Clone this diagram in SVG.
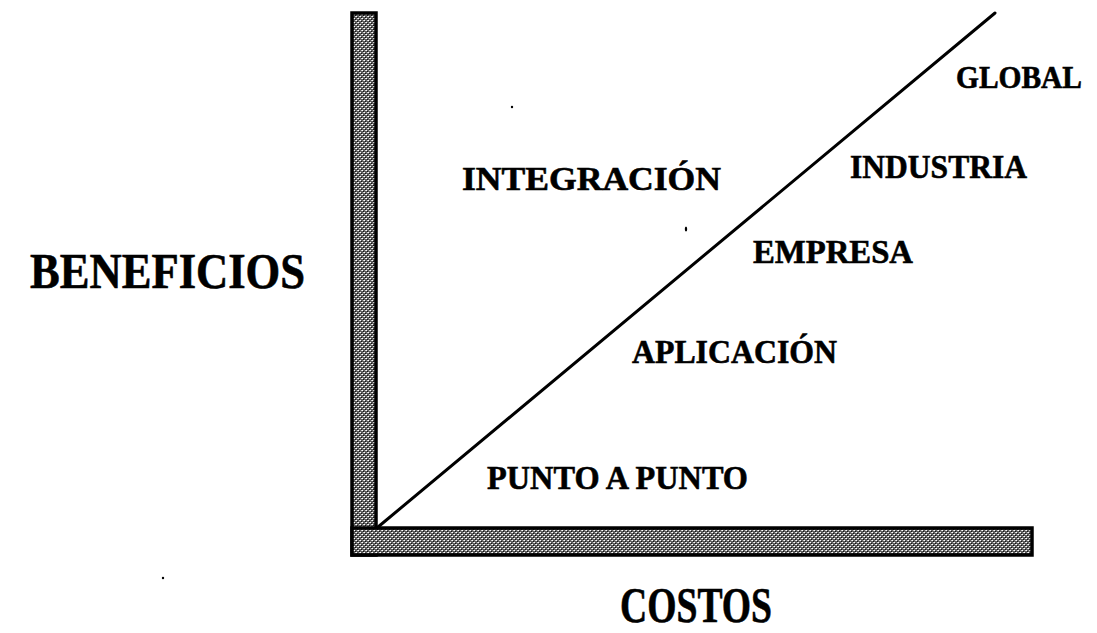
<svg xmlns="http://www.w3.org/2000/svg" width="1097" height="633" viewBox="0 0 1097 633">
<style>
.lbl{font-family:"Liberation Serif","Times New Roman",serif;font-weight:bold;fill:#000;stroke:#000;stroke-width:0.6}
.sm{font-size:34px}
.big{font-size:50px}
.bar{fill:url(#dither);stroke:#000;stroke-width:3.5}
</style>
<defs>
<pattern id="dither" width="4" height="4" patternUnits="userSpaceOnUse">
<rect width="4" height="4" fill="#5e5e5e"/>
<rect x="0" y="0" width="1" height="1" fill="#fff"/>
<rect x="2" y="2" width="1" height="1" fill="#fff"/>
<rect x="1" y="2" width="1" height="1" fill="#ccc"/>
<rect x="3" y="0" width="1" height="1" fill="#ccc"/>
<rect x="1" y="1" width="1" height="1" fill="#111"/>
<rect x="3" y="3" width="1" height="1" fill="#111"/>
</pattern>
</defs>
<rect width="1097" height="633" fill="#fff"/>
<g id="axes">
<rect id="y-axis" class="bar" x="352" y="13" width="24" height="542"/>
<rect id="x-axis" class="bar" x="352" y="528" width="680" height="27"/>
</g>
<g id="connectors">
<line x1="378" y1="527" x2="995" y2="13" stroke="#000" stroke-width="3" stroke-linecap="round"/>
</g>
<g id="axis-labels">
<text id="beneficios" class="lbl big" x="30" y="288" textLength="275" lengthAdjust="spacingAndGlyphs">BENEFICIOS</text>
<text id="costos" class="lbl big" x="620" y="622" textLength="152" lengthAdjust="spacingAndGlyphs">COSTOS</text>
</g>
<g id="node-global"><text class="lbl" font-size="31" x="956" y="88" textLength="126" lengthAdjust="spacingAndGlyphs">GLOBAL</text></g>
<g id="node-industria"><text class="lbl sm" x="850" y="178" textLength="177" lengthAdjust="spacingAndGlyphs">INDUSTRIA</text></g>
<g id="node-integracion"><text class="lbl sm" x="462" y="190" textLength="259" lengthAdjust="spacingAndGlyphs">INTEGRACIÓN</text></g>
<g id="node-empresa"><text class="lbl sm" x="753" y="263" textLength="160" lengthAdjust="spacingAndGlyphs">EMPRESA</text></g>
<g id="node-aplicacion"><text class="lbl sm" x="632" y="363" textLength="205" lengthAdjust="spacingAndGlyphs">APLICACIÓN</text></g>
<g id="node-punto"><text class="lbl sm" x="487" y="489" textLength="261" lengthAdjust="spacingAndGlyphs">PUNTO A PUNTO</text></g>
<g id="specks">
<circle cx="512" cy="107" r="1.2" fill="#000"/>
<ellipse cx="686" cy="229" rx="1.2" ry="2.5" fill="#000"/>
<circle cx="163" cy="578" r="1.2" fill="#000"/>
</g>
</svg>
